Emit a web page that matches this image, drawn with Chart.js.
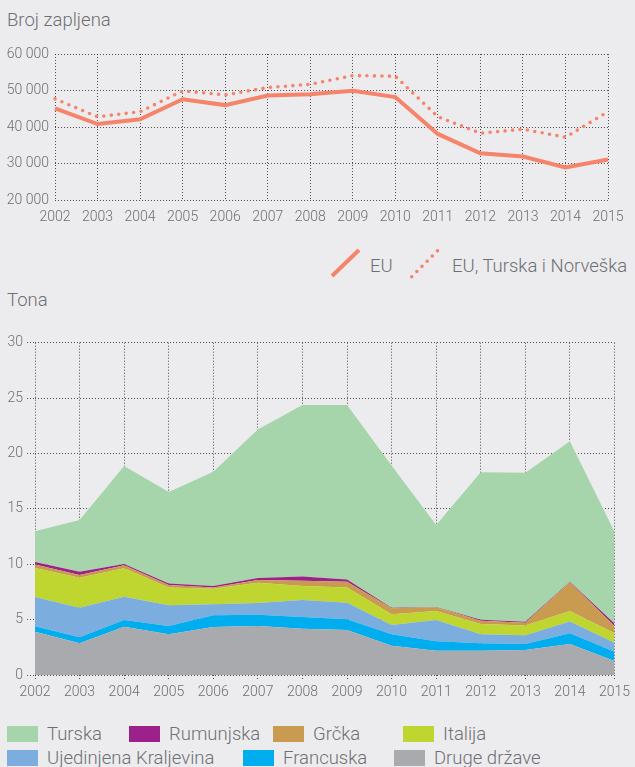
<!DOCTYPE html>
<html>
<head>
<meta charset="utf-8">
<script src="https://cdn.jsdelivr.net/npm/chart.js@4.4.1/dist/chart.umd.min.js"></script>
<style>
  html, body { margin: 0; padding: 0; }
  body {
    width: 635px; height: 767px; position: relative; overflow: hidden;
    background: #ececee; color: #6e6f73;
    font-family: Roboto, "Noto Sans", sans-serif; font-weight: 300;
  }
  .lbl { position: absolute; font-size: 18.5px; line-height: 1; white-space: nowrap; }
  canvas { position: absolute; left: 0; }
  .sw { position: absolute; width: 31px; height: 16px; }
</style>
</head>
<body>
<div class="lbl" style="left:7px;top:11px">Broj zapljena</div>
<canvas id="seizures" width="635" height="240" style="top:0"></canvas>
<canvas id="iconSolid" width="40" height="40" style="left:325px;top:243px"></canvas>
<canvas id="iconDotted" width="40" height="40" style="left:405px;top:243px"></canvas>
<div class="lbl" style="left:370px;top:257px">EU</div>
<div class="lbl" style="left:452px;top:257px">EU, Turska i Norveška</div>

<div class="lbl" style="left:7px;top:291px">Tona</div>
<canvas id="tonnes" width="635" height="390" style="top:315px"></canvas>
<div id="areaLegend"></div>

<script>
// godine
const years = ['2002','2003','2004','2005','2006','2007','2008','2009','2010','2011','2012','2013','2014','2015']

// broj zapljena
const euSeizures   = [45100, 40800, 42100, 47600, 46000, 48600, 49000, 49900, 48200, 38100, 32800, 31900, 28900, 31100]
const euTrNoSeizures = [47700, 42800, 44200, 49900, 48800, 50800, 51700, 54100, 53900, 42800, 38300, 39400, 37200, 44200]

// tone po zemljama
const druge     = [3.90, 2.86, 4.36, 3.67, 4.33, 4.42, 4.18, 4.06, 2.65, 2.20, 2.20, 2.26, 2.80, 1.26]
const francuska = [0.50, 0.54, 0.60, 0.75, 1.06, 1.02, 1.05, 0.97, 1.02, 0.84, 0.66, 0.54, 0.96, 0.84]
const uk        = [2.65, 2.68, 2.11, 1.87, 0.99, 1.06, 1.54, 1.50, 0.84, 1.92, 0.81, 0.78, 1.08, 0.82]
const italija   = [2.62, 2.70, 2.56, 1.62, 1.41, 1.83, 1.26, 1.38, 0.97, 0.82, 0.93, 0.90, 0.94, 0.84]
const grcka     = [0.30, 0.25, 0.27, 0.21, 0.12, 0.24, 0.48, 0.51, 0.54, 0.33, 0.30, 0.24, 2.59, 0.66]
const rumunjska = [0.24, 0.30, 0.12, 0.15, 0.12, 0.18, 0.39, 0.21, 0.05, 0.03, 0.09, 0.09, 0.05, 0.24]
const turska    = [2.77, 4.67, 8.84, 8.25, 10.32, 13.42, 15.47, 15.74, 12.85, 7.40, 13.31, 13.46, 12.68, 8.27]

const seizureTicks = [20000, 30000, 40000, 50000, 60000]
const tonneTicks = [0, 5, 10, 15, 20, 25, 30]

const lineColor = '#f5846a'
const gridColor = 'rgba(40,40,44,0.8)'
const textColor = '#6e6f73'

Chart.defaults.font.family = 'Roboto, "Noto Sans", sans-serif'
Chart.defaults.font.size = 14
Chart.defaults.font.weight = 300
Chart.defaults.color = textColor

const fmt = v => String(v).replace(/\B(?=(\d{3})+(?!\d))/g, ' ')

new Chart(document.getElementById('seizures'), {
  type: 'line',
  data: {
    labels: years,
    datasets: [
      { label: 'EU', data: euSeizures, borderColor: lineColor, borderWidth: 4,
        pointRadius: 0, tension: 0 },
      { label: 'EU, Turska i Norveška', data: euTrNoSeizures, borderColor: lineColor, borderWidth: 3.6,
        borderDash: [0, 7.5], borderCapStyle: 'round', pointRadius: 0, tension: 0 }
    ]
  },
  options: {
    responsive: false, animation: false, devicePixelRatio: 1,
    layout: { padding: { top: 54, right: 27, left: 0, bottom: 0 } },
    plugins: { legend: { display: false }, tooltip: { enabled: false } },
    scales: {
      x: {
        grid: { color: gridColor, lineWidth: 1, drawTicks: false },
        border: { display: false, dash: [1, 2] },
        ticks: { padding: 9, maxRotation: 0, autoSkip: false },
        afterFit: s => { s.height = 40 }
      },
      y: {
        min: 20000, max: 60000,
        afterBuildTicks: s => { s.ticks = seizureTicks.map(v => ({ value: v })) },
        grid: { color: gridColor, lineWidth: 1, drawTicks: false },
        border: { display: false, dash: [1, 2] },
        ticks: { padding: 6, callback: v => fmt(v) },
        afterFit: s => { s.width = 55 }
      }
    }
  }
})

// ikone legende
function drawIcon(id, x1, y1, x2, y2, dotted) {
  const ctx = document.getElementById(id).getContext('2d')
  ctx.strokeStyle = lineColor
  ctx.lineWidth = dotted ? 3.6 : 4
  if (dotted) { ctx.setLineDash([0, 7.3]); ctx.lineCap = 'round' }
  ctx.beginPath()
  ctx.moveTo(x1, y1)
  ctx.lineTo(x2, y2)
  ctx.stroke()
}
drawIcon('iconSolid', 7, 33, 34, 7, false)
drawIcon('iconDotted', 6.7, 33.7, 34, 6.3, true)

const seriesNames  = ['Druge države', 'Francuska', 'Ujedinjena Kraljevina', 'Italija', 'Grčka', 'Rumunjska', 'Turska']
const seriesValues = [druge, francuska, uk, italija, grcka, rumunjska, turska]
const seriesColors = ['#a9aaae', '#00aeef', '#7badde', '#bfd630', '#c99b51', '#9d218b', '#a6d4ab']

new Chart(document.getElementById('tonnes'), {
  type: 'line',
  data: {
    labels: years,
    datasets: seriesNames.map((name, i) => ({
      label: name,
      data: seriesValues[i],
      backgroundColor: seriesColors[i],
      borderWidth: 0,
      pointRadius: 0,
      tension: 0,
      fill: i === 0 ? 'origin' : '-1'
    }))
  },
  options: {
    responsive: false, animation: false, devicePixelRatio: 1,
    layout: { padding: { top: 27.7, right: 18, left: 0, bottom: 0 } },
    plugins: { legend: { display: false }, tooltip: { enabled: false } },
    scales: {
      x: {
        grid: { color: gridColor, lineWidth: 1, drawTicks: true, tickLength: 4,
                tickColor: gridColor, tickBorderDash: [1, 2] },
        border: { display: false, dash: [1, 2] },
        ticks: { padding: 5, maxRotation: 0, autoSkip: false },
        afterFit: s => { s.height = 30 }
      },
      y: {
        stacked: true,
        min: 0, max: 30,
        afterBuildTicks: s => { s.ticks = tonneTicks.map(v => ({ value: v })) },
        grid: { color: gridColor, lineWidth: 1, drawTicks: true, tickLength: 8,
                tickColor: gridColor, tickBorderDash: [1, 2] },
        border: { display: false, dash: [1, 2] },
        ticks: { padding: 4 },
        afterFit: s => { s.width = 35 }
      }
    }
  }
})

// legenda (redoslijed kao u izvorniku)
const legendOrder = [6, 5, 4, 3, 2, 1, 0]
const legendSpots = [[7, 726], [129, 726], [273, 726], [403, 726], [7, 750], [243, 750], [394, 750]]
const box = document.getElementById('areaLegend')
legendOrder.forEach((idx, k) => {
  const [x, y] = legendSpots[k]
  const sw = document.createElement('div')
  sw.className = 'sw'
  sw.style.left = x + 'px'
  sw.style.top = y + 'px'
  sw.style.background = seriesColors[idx]
  box.appendChild(sw)
  const t = document.createElement('div')
  t.className = 'lbl'
  t.style.left = (x + 40) + 'px'
  t.style.top = (y - 1) + 'px'
  t.textContent = seriesNames[idx]
  box.appendChild(t)
})
</script>
</body>
</html>
